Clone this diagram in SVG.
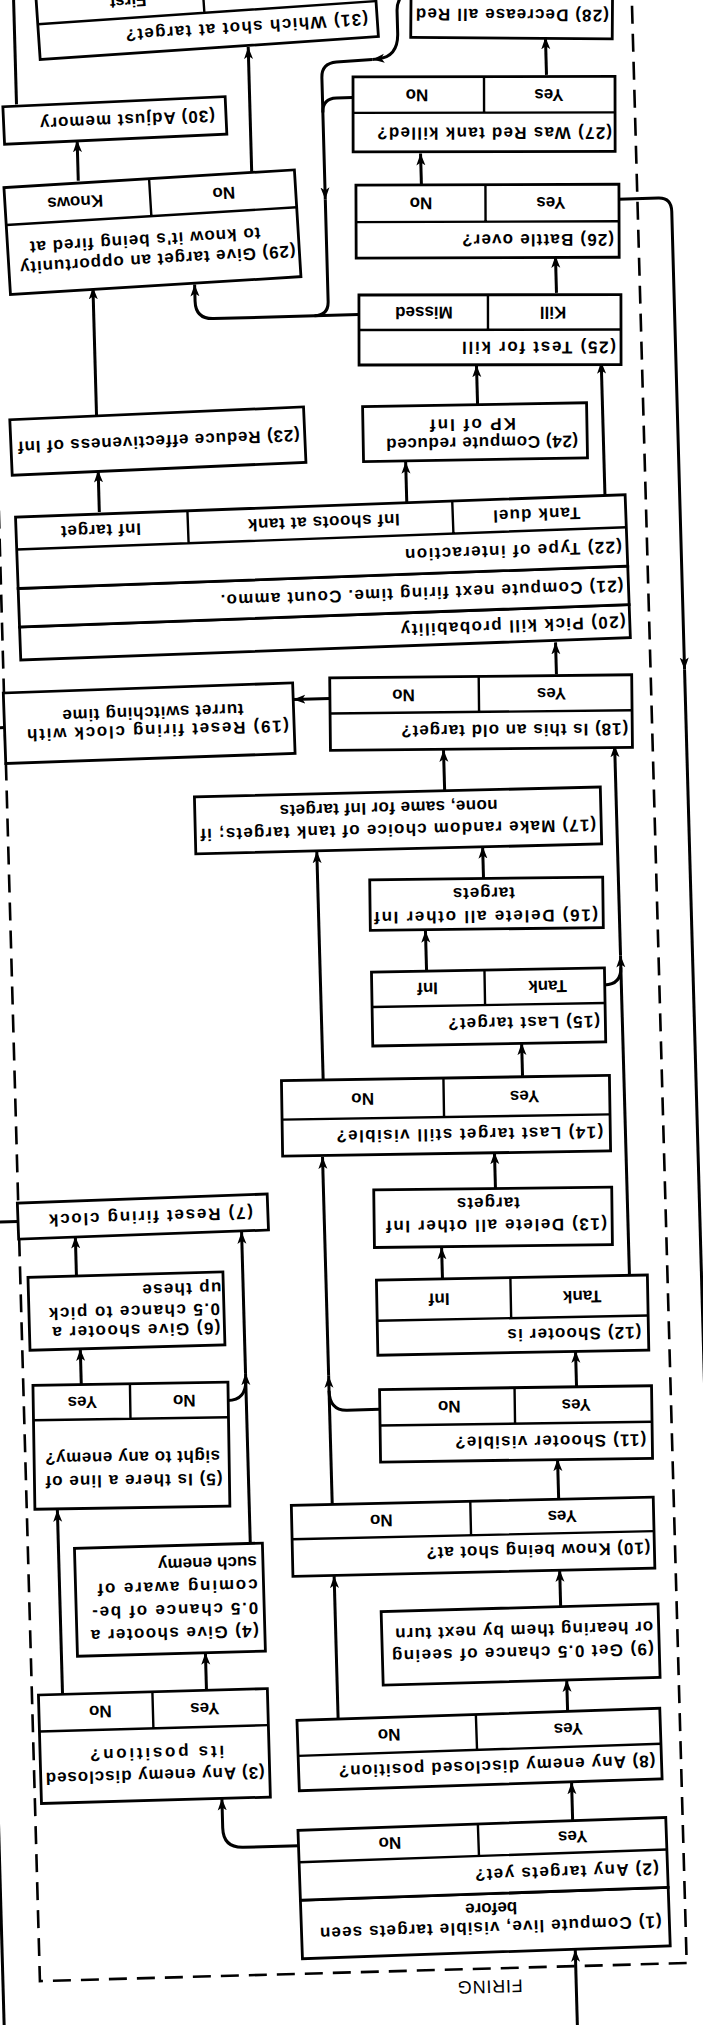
<svg xmlns="http://www.w3.org/2000/svg" width="703" height="2025" viewBox="0 0 703 2025">
<style>
.box{fill:#fff;stroke:#000;stroke-width:2.8}
.dv{fill:none;stroke:#000;stroke-width:2.4}
.t{font-family:"Liberation Sans","DejaVu Sans",sans-serif;font-size:17px;font-weight:bold;fill:#000;dominant-baseline:central}
.c{text-anchor:middle}
.conn path{fill:none;stroke:#000;stroke-width:3}
.a{marker-end:url(#ah)}
.frame{fill:none;stroke:#000;stroke-width:2.6;stroke-dasharray:18 10}
.lbl{font-family:"Liberation Sans","DejaVu Sans",sans-serif;font-size:18px;fill:#000;text-anchor:middle}
</style>
<defs>
<marker id="ah" markerUnits="userSpaceOnUse" markerWidth="13" markerHeight="10" refX="12" refY="5" orient="auto">
<path d="M0,0.5 L12,5 L0,9.5 L3,5 z" fill="#000"/>
</marker>
</defs>
<rect x="0" y="0" width="703" height="2025" fill="#fff"/>
<!-- the sheet is drawn upright here and turned as a whole -->
<g id="sheet" transform="rotate(178.4 351.5 1012.5)">
<rect class="frame" x="43" y="53" width="647" height="2012"/>
<text class="lbl" x="240" y="41" textLength="65" lengthAdjust="spacing">FIRING</text>

<g id="connectors" class="conn">
<path class="a" d="M154 -30 V69.3"/>
<path class="a" d="M153 197.8 V236.9"/>
<path class="a" d="M427.4 181 H483 Q503 181 503 201 V230.5"/>
<path class="a" d="M515.4 339 V376.6"/>
<path class="a" d="M659.4 339 V523.6"/>
<path class="a" d="M632 647.6 V683.8"/>
<path class="a" d="M467.5 484.6 V655"/>
<path class="a" d="M467.5 655 V796.3"/>
<path d="M486.1 628 Q467.5 628 467.5 648"/>
<path class="a" d="M633.8 756.8 V796.3"/>
<path d="M690.7 813 H727"/>
<path d="M690.4 1307 H727"/>
<path d="M727 1307 V-40"/>
<path class="a" d="M155 307.4 V339.3"/>
<path class="a" d="M384.6 307.4 V449.6"/>
<path class="a" d="M159 412.8 V449.6"/>
<path class="a" d="M158 520.6 V560.4"/>
<path class="a" d="M384.5 520.6 V650"/>
<path class="a" d="M384.5 650 V868.9"/>
<path d="M334.5 615 H367 Q384.5 615 384.5 635"/>
<path class="a" d="M137 632.9 V668"/>
<path class="a" d="M268 743 V775.1"/>
<path class="a" d="M81 743 V1062"/>
<path class="a" d="M81 1062 V1272.4"/>
<path d="M97.8 1033 Q81 1033 81 1050"/>
<path class="a" d="M212.5 832.6 V868.9"/>
<path class="a" d="M182.3 944.4 V977.2"/>
<path class="a" d="M381.7 944.4 V1174.7"/>
<path class="a" d="M275.3 1051.2 V1092.2"/>
<path class="a" d="M215.8 1142.7 V1174.7"/>
<path class="a" d="M252.2 1231.7 V1272.4"/>
<path class="a" d="M137.2 1344.9 V1376.8"/>
<path class="a" d="M364.6 1327 H400.9"/>
<path class="a" d="M282 1519.8 V1561.6"/>
<path class="a" d="M589.6 1519.8 V1561.4"/>
<path class="a" d="M83.7 1519.8 V1656.1"/>
<path class="a" d="M208.5 1616.6 V1656.1"/>
<path class="a" d="M589.7 1616.9 V1744.6"/>
<path class="a" d="M325 1710 H470 Q488 1710 488 1728 V1744.6"/>
<path class="a" d="M126.5 1726.1 V1763.2"/>
<path class="a" d="M258.5 1836.2 V1869.3"/>
<path class="a" d="M61.9 1818 H22 Q9 1818 9 1804 V1346"/>
<path d="M9 1346 V-40"/>
<path class="a" d="M130.4 1944.3 V1982"/>
<path d="M324.9 1927 H341 Q355 1927 355 1913"/>
<path class="a" d="M264 2032 Q278 2028 278 2012 V1990 Q278 1967 298 1965 L304 1964.5"/>
<path class="a" d="M304 1964.5 L340 1963 Q355 1962 355 1948 V1826"/>
<path d="M355 1826 V1724 Q355 1710 369 1710"/>
<path class="a" d="M427.8 1851.6 V1980.5"/>
<path class="a" d="M601.4 1851.6 V1892.1"/>
<path d="M661 1929.6 V2070"/>
</g>

<g id="n1" transform="rotate(-0.4 243.4 133.5)">
<rect class="box" x="59.4" y="69.3" width="368" height="58.5"/>
<text class="t" x="67" y="94" textLength="342" lengthAdjust="spacing">(1) Compute live, visible targets seen</text>
<text class="t" x="211" y="113">before</text>
</g>
<g id="n2" transform="rotate(-0.4 243.4 133.5)">
<rect class="box" x="59.4" y="127.8" width="368" height="70"/>
<path class="dv" d="M59.4 165.8 H427.4 M247.4 165.8 V197.8"/>
<text class="t" x="68" y="147" textLength="184" lengthAdjust="spacing">(2) Any targets yet?</text>
<text class="t c" x="153" y="182">Yes</text>
<text class="t c" x="336" y="182">No</text>
</g>
<g id="n3">
<rect class="box" x="454.5" y="230.5" width="229" height="108.5"/>
<path class="dv" d="M454.5 302.5 H683.5 M569.5 302.5 V339"/>
<text class="t" x="459.5" y="255.5" textLength="219" lengthAdjust="spacing">(3) Any enemy disclosed</text>
<text class="t" x="499.5" y="277.5" textLength="134" lengthAdjust="spacing">its position?</text>
<text class="t c" x="517.5" y="321">Yes</text>
<text class="t c" x="622" y="321">No</text>
</g>
<g id="n4">
<rect class="box" x="455.4" y="376.6" width="188" height="108"/>
<text class="t" x="461.4" y="397" textLength="168" lengthAdjust="spacing">(4) Give shooter a</text>
<text class="t" x="461.4" y="420" textLength="166" lengthAdjust="spacing">0.5 chance of be-</text>
<text class="t" x="461.4" y="443" textLength="160" lengthAdjust="spacing">coming aware of</text>
<text class="t" x="461.4" y="466" textLength="99" lengthAdjust="spacing">such enemy</text>
</g>
<g id="n5" transform="rotate(0.7 583.6 585.6)">
<rect class="box" x="486.1" y="523.6" width="195" height="124"/>
<path class="dv" d="M486.1 612.6 H681.1 M584.1 612.6 V647.6"/>
<text class="t" x="493" y="551" textLength="177" lengthAdjust="spacing">(5) Is there a line of</text>
<text class="t" x="495" y="574" textLength="175" lengthAdjust="spacing">sight to any enemy?</text>
<text class="t c" x="530" y="630">No</text>
<text class="t c" x="632" y="630">Yes</text>
</g>
<g id="n6">
<rect class="box" x="487.3" y="683.8" width="195" height="73"/>
<text class="t" x="491.3" y="701" textLength="168" lengthAdjust="spacing">(6) Give shooter a</text>
<text class="t" x="491.3" y="720" textLength="171" lengthAdjust="spacing">0.5 chance to pick</text>
<text class="t" x="489.3" y="741" textLength="79" lengthAdjust="spacing">up these</text>
</g>
<g id="n7" transform="rotate(-0.5 565.7 814.3)">
<rect class="box" x="440.7" y="796.3" width="250" height="36"/>
<text class="t" x="455.7" y="814.3" textLength="204" lengthAdjust="spacing">(7) Reset firing clock</text>
</g>
<g id="n8" transform="rotate(-0.3 244.1 272.2)">
<rect class="box" x="62.6" y="236.9" width="363" height="70.5"/>
<path class="dv" d="M62.6 271.9 H425.6 M246.6 271.9 V307.4"/>
<text class="t" x="68.6" y="255" textLength="317" lengthAdjust="spacing">(8) Any enemy disclosed position?</text>
<text class="t c" x="154.6" y="290">Yes</text>
<text class="t c" x="334" y="290">No</text>
</g>
<g id="n9">
<rect class="box" x="61.6" y="339.3" width="277" height="73.5"/>
<text class="t" x="67" y="368" textLength="262" lengthAdjust="spacing">(9) Get 0.5 chance of seeing</text>
<text class="t" x="67" y="390" textLength="258" lengthAdjust="spacing">or hearing them by next turn</text>
</g>
<g id="n10" transform="rotate(0.3 244.6 485.1)">
<rect class="box" x="63.6" y="449.6" width="362" height="71"/>
<path class="dv" d="M63.6 486.6 H425.6 M246.6 486.6 V520.6"/>
<text class="t" x="67.6" y="470" textLength="224" lengthAdjust="spacing">(10) Know being shot at?</text>
<text class="t c" x="155" y="503.6">Yes</text>
<text class="t c" x="336" y="503.6">No</text>
</g>
<g id="n11" transform="rotate(0.8 198.5 596.7)">
<rect class="box" x="62.5" y="560.4" width="272" height="72.5"/>
<path class="dv" d="M62.5 596.9 H334.5 M199.5 596.9 V632.9"/>
<text class="t" x="68.5" y="579" textLength="191" lengthAdjust="spacing">(11) Shooter visible?</text>
<text class="t c" x="138" y="615">Yes</text>
<text class="t c" x="265" y="615">No</text>
</g>
<g id="n12" transform="rotate(0.5 198.9 705.5)">
<rect class="box" x="63.4" y="668" width="271" height="75"/>
<path class="dv" d="M63.4 702.5 H334.4 M200.4 702.5 V743"/>
<text class="t" x="70.4" y="686" textLength="134" lengthAdjust="spacing">(12) Shooter is</text>
<text class="t c" x="129" y="723">Tank</text>
<text class="t c" x="272" y="723">Inf</text>
</g>
<g id="n13" transform="rotate(0.9 215.7 803.8)">
<rect class="box" x="96.7" y="775.1" width="238" height="57.5"/>
<text class="t" x="101.7" y="796" textLength="221" lengthAdjust="spacing">(13) Delete all other Inf</text>
<text class="t" x="188.7" y="818" textLength="63" lengthAdjust="spacing">targets</text>
</g>
<g id="n14" transform="rotate(0.7 259.9 906.6)">
<rect class="box" x="95.9" y="868.9" width="328" height="75.5"/>
<path class="dv" d="M95.9 905.4 H423.9 M261.9 905.4 V944.4"/>
<text class="t" x="102.9" y="888" textLength="267" lengthAdjust="spacing">(14) Last target still visible?</text>
<text class="t c" x="181" y="925">Yes</text>
<text class="t c" x="343" y="925">No</text>
</g>
<g id="n15" transform="rotate(0.6 214.3 1014.2)">
<rect class="box" x="97.8" y="977.2" width="233" height="74"/>
<path class="dv" d="M97.8 1016.2 H330.8 M217.8 1016.2 V1051.2"/>
<text class="t" x="103" y="998" textLength="152" lengthAdjust="spacing">(15) Last target?</text>
<text class="t c" x="155" y="1034">Tank</text>
<text class="t c" x="275" y="1034">Inf</text>
</g>
<g id="n16" transform="rotate(0.9 213.5 1117.5)">
<rect class="box" x="97" y="1092.2" width="233" height="50.5"/>
<text class="t" x="102" y="1105" textLength="224" lengthAdjust="spacing">(16) Delete all other Inf</text>
<text class="t" x="185" y="1128" textLength="62" lengthAdjust="spacing">targets</text>
</g>
<g id="n17" transform="rotate(0.2 299.6 1203.2)">
<rect class="box" x="96.6" y="1174.7" width="406" height="57"/>
<text class="t" x="101.6" y="1194" textLength="396" lengthAdjust="spacing">(17) Make random choice of tank targets; if</text>
<text class="t" x="199.6" y="1216" textLength="218" lengthAdjust="spacing">none, same for Inf targets</text>
</g>
<g id="n18" transform="rotate(1 213.6 1308.6)">
<rect class="box" x="62.6" y="1272.4" width="302" height="72.5"/>
<path class="dv" d="M62.6 1309.4 H364.6 M215.6 1309.4 V1344.9"/>
<text class="t" x="66.6" y="1291" textLength="227" lengthAdjust="spacing">(18) Is this an old target?</text>
<text class="t c" x="143" y="1327">Yes</text>
<text class="t c" x="291" y="1327">No</text>
</g>
<g id="n19" transform="rotate(-0.4 545.7 1307.4)">
<rect class="box" x="400.9" y="1272.1" width="289.5" height="70.5"/>
<text class="t" x="406" y="1300" textLength="262" lengthAdjust="spacing">(19) Reset firing clock with</text>
<text class="t" x="451" y="1318" textLength="181" lengthAdjust="spacing">turret switching time</text>
</g>
<g id="n20" transform="rotate(-0.5 367.9 1448.3)">
<rect class="box" x="62.9" y="1376.8" width="610" height="33"/>
<text class="t" x="67" y="1393" textLength="225" lengthAdjust="spacing">(20) Pick kill probability</text>
</g>
<g id="n21" transform="rotate(-0.5 367.9 1448.3)">
<rect class="box" x="62.9" y="1409.8" width="610" height="38.5"/>
<text class="t" x="67.9" y="1429" textLength="403" lengthAdjust="spacing">(21) Compute next firing time. Count ammo.</text>
</g>
<g id="n22" transform="rotate(-0.5 367.9 1448.3)">
<rect class="box" x="62.9" y="1448.3" width="610" height="71.5"/>
<path class="dv" d="M62.9 1487.3 H672.9 M235.9 1487.3 V1519.8 M500.9 1487.3 V1519.8"/>
<text class="t" x="67.9" y="1468" textLength="217" lengthAdjust="spacing">(22) Type of interaction</text>
<text class="t c" x="152" y="1503.5" textLength="87" lengthAdjust="spacing">Tank duel</text>
<text class="t c" x="365" y="1503.5" textLength="152" lengthAdjust="spacing">Inf shoots at tank</text>
<text class="t c" x="588" y="1503.5" textLength="80" lengthAdjust="spacing">Inf target</text>
</g>
<g id="n23" transform="rotate(-0.9 529.1 1589.2)">
<rect class="box" x="382.1" y="1561.4" width="294" height="55.5"/>
<text class="t" x="387" y="1589" textLength="282" lengthAdjust="spacing">(23) Reduce effectiveness of Inf</text>
</g>
<g id="n24" transform="rotate(0.6 211.8 1589.1)">
<rect class="box" x="99.8" y="1561.6" width="224" height="55"/>
<text class="t" x="108.8" y="1578.6" textLength="192" lengthAdjust="spacing">(24) Compute reduced</text>
<text class="t" x="170.8" y="1597" textLength="86" lengthAdjust="spacing">KP of Inf</text>
</g>
<g id="n25" transform="rotate(1.5 194 1691.1)">
<rect class="box" x="63" y="1656.1" width="262" height="70"/>
<path class="dv" d="M63 1691.1 H325 M196 1691.1 V1726.1"/>
<text class="t" x="68" y="1673.6" textLength="154" lengthAdjust="spacing">(25) Test for kill</text>
<text class="t c" x="131" y="1708.6">Kill</text>
<text class="t c" x="260" y="1708.6">Missed</text>
</g>
<g id="n26" transform="rotate(1.4 193.4 1799.7)">
<rect class="box" x="61.9" y="1763.2" width="263" height="73"/>
<path class="dv" d="M61.9 1799.2 H324.9 M195.4 1799.2 V1836.2"/>
<text class="t" x="66.9" y="1781" textLength="152" lengthAdjust="spacing">(26) Battle over?</text>
<text class="t c" x="130" y="1818">Yes</text>
<text class="t c" x="260" y="1818">No</text>
</g>
<g id="n27" transform="rotate(1.5 193.9 1906.8)">
<rect class="box" x="62.9" y="1869.3" width="262" height="75"/>
<path class="dv" d="M62.9 1908.3 H324.9 M193.9 1908.3 V1944.3"/>
<text class="t" x="65.9" y="1888" textLength="235" lengthAdjust="spacing">(27) Was Red tank killed?</text>
<text class="t c" x="129" y="1926">Yes</text>
<text class="t c" x="261" y="1926">No</text>
</g>
<g id="n28" transform="rotate(2 163.8 2000)">
<rect class="box" x="63" y="1982" width="201.5" height="85"/>
<text class="t" x="66.5" y="2005.5" textLength="193" lengthAdjust="spacing">(28) Decrease all Red</text>
</g>
<g id="n29" transform="rotate(-1.9 528.7 1798.1)">
<rect class="box" x="383.2" y="1744.6" width="291" height="107"/>
<path class="dv" d="M383.2 1814.1 H674.2 M528.8 1814.1 V1851.6"/>
<text class="t" x="387" y="1770.6" textLength="276" lengthAdjust="spacing">(29) Give target an opportunity</text>
<text class="t" x="421" y="1790.6" textLength="231" lengthAdjust="spacing">to know it's being fired at</text>
<text class="t c" x="455" y="1833">No</text>
<text class="t c" x="604" y="1833">Knows</text>
</g>
<g id="n30" transform="rotate(-1 563.1 1910.9)">
<rect class="box" x="451.9" y="1892.1" width="222.5" height="37.5"/>
<text class="t" x="463" y="1911" textLength="175" lengthAdjust="spacing">(30) Adjust memory</text>
</g>
<g id="n31" transform="rotate(-2.3 467.5 2000)">
<rect class="box" x="298" y="1980.5" width="339" height="90"/>
<path class="dv" d="M298 2016 H637 M470 2016 V2070.5"/>
<text class="t" x="307" y="1999" textLength="243" lengthAdjust="spacing">(31) Which shot at target?</text>
<text class="t" x="527" y="2033">First</text>
</g>
</g>
</svg>
